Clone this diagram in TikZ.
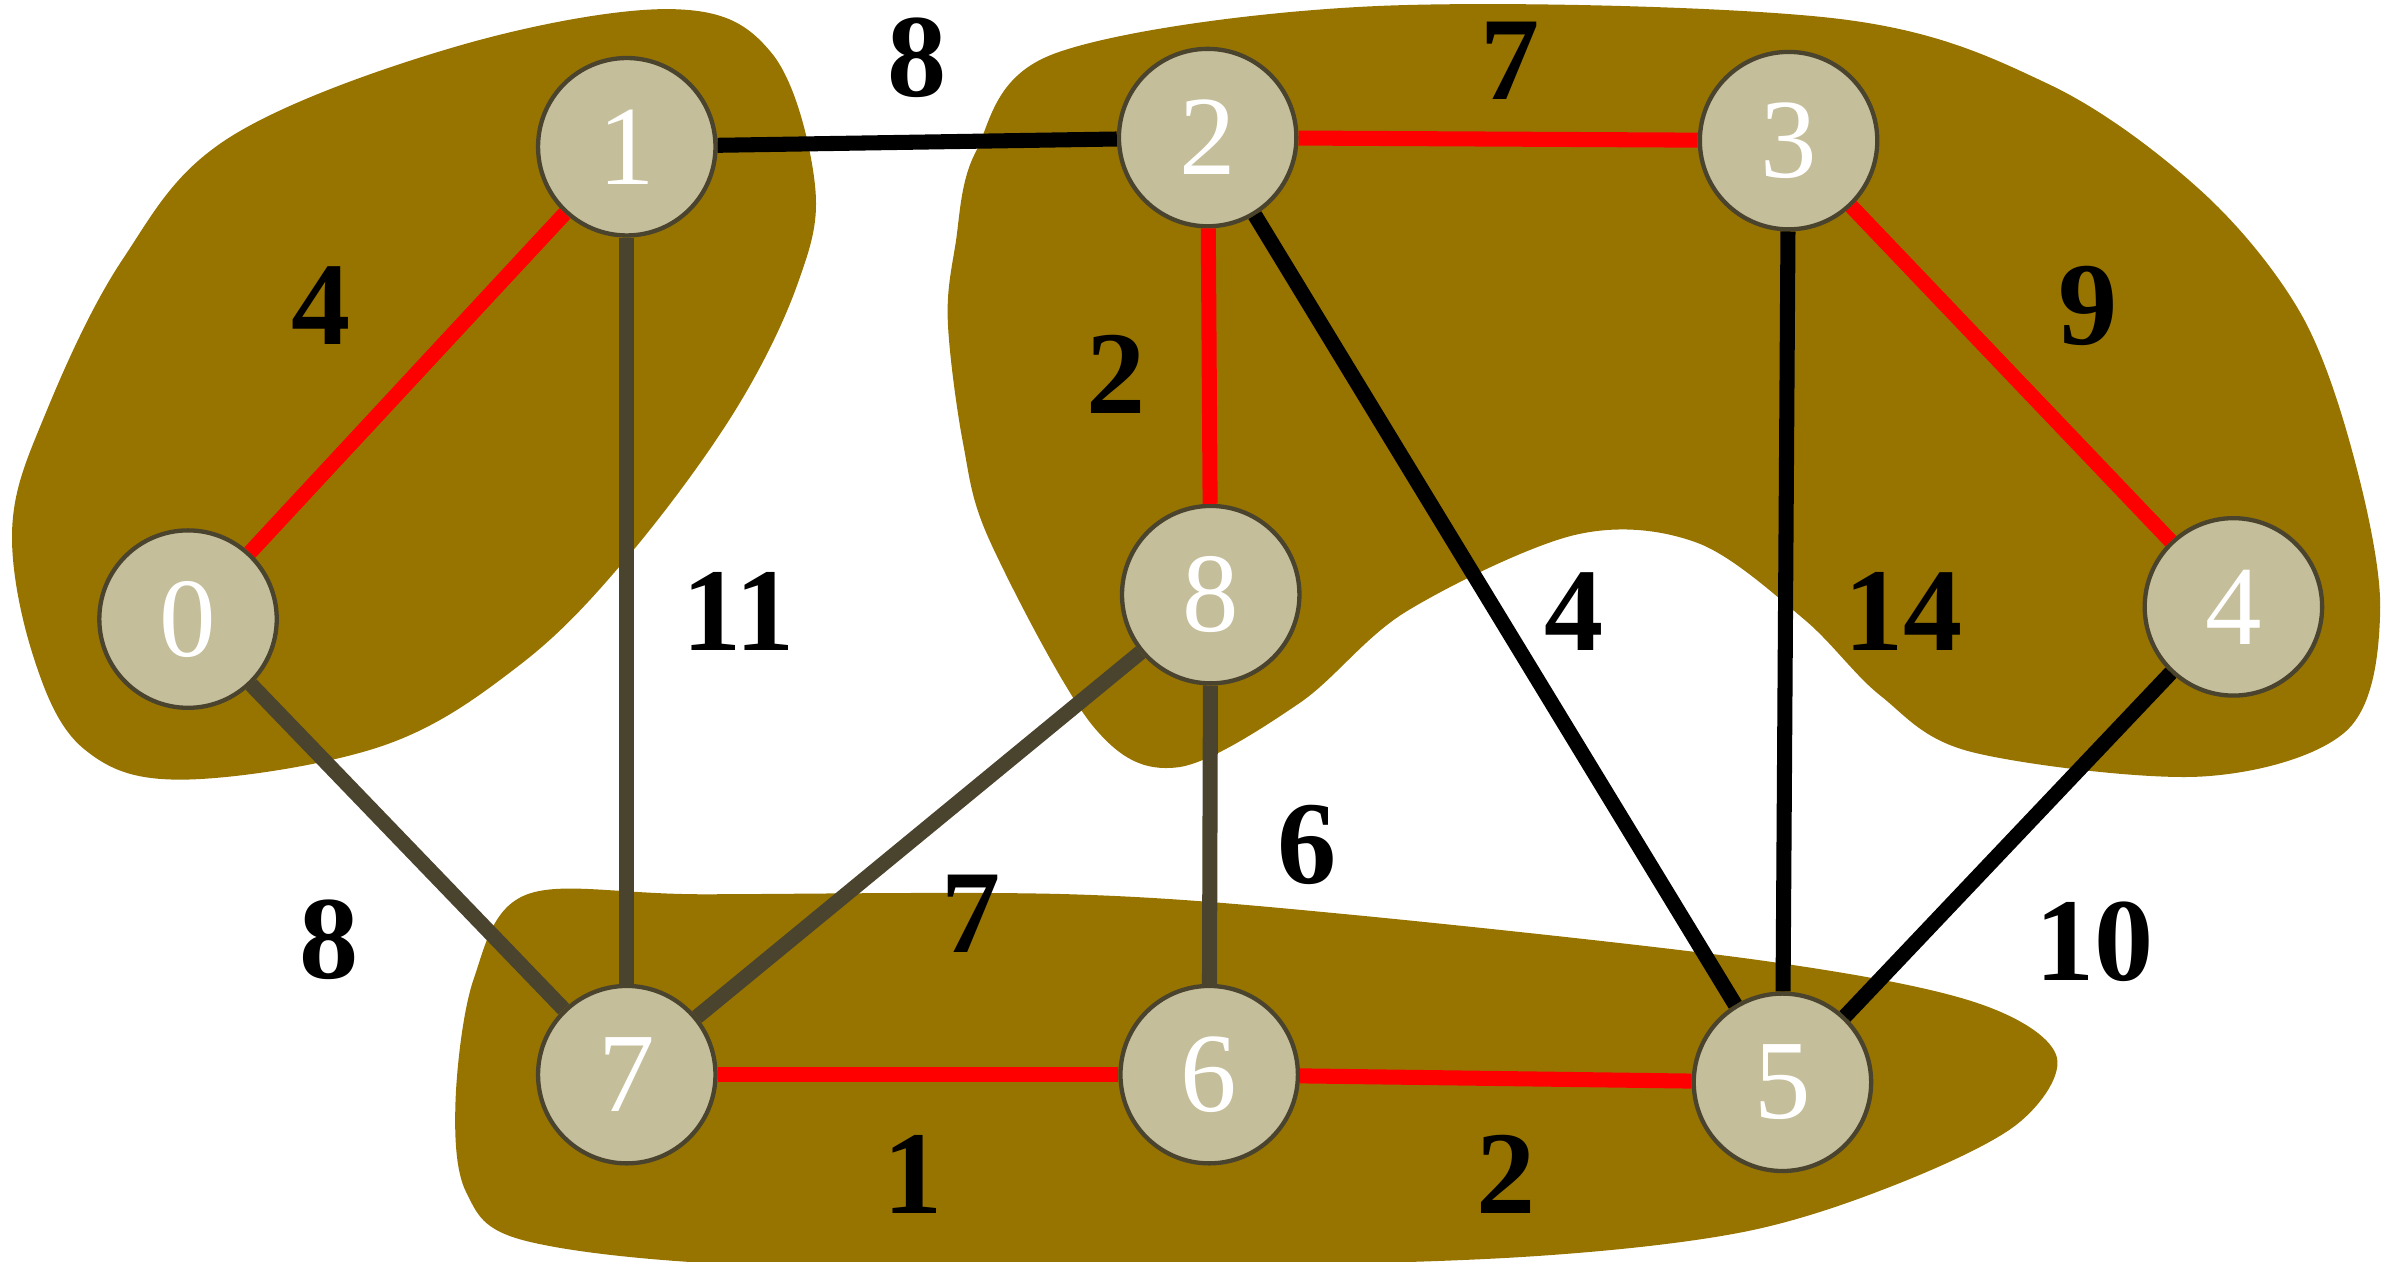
\documentclass[tikz,border=0pt]{standalone}
\usepackage{fontspec}
\setmainfont{Liberation Serif}
\newfontfamily\timesfont{LiberationSerif}[Extension=.ttf, UprightFont=*-Regular, BoldFont=*-Bold]
\usepackage{tikz}
\definecolor{blob}{RGB}{151,116,0}
\definecolor{nodefill}{RGB}{197,190,154}
\definecolor{olive}{RGB}{74,67,46}

\begin{document}
\begin{tikzpicture}[x=0.01cm, y=-0.01cm, line width=2.8pt,
    vertex/.style={circle, fill=nodefill, draw=olive, line width=0.8pt,
                   minimum size=1.16cm, inner sep=0pt, text=white,
                   font=\timesfont\fontsize{21}{21}\selectfont},
    weight/.style={font=\timesfont\fontsize{22}{22}\selectfont\bfseries},
    tree/.style={red},
    plain/.style={black},
    cross/.style={olive}]
    \useasboundingbox (0,0) rectangle (1568,825);

    % Clusters
    \fill[blob] plot[smooth cycle, tension=0.6] coordinates {
        (8,345) (30,270) (80,170) (150,90) (300,30) (440,6) (505,35)
        (533,120) (522,185) (480,270) (410,365) (340,435) (250,488)
        (120,510) (55,490) (22,430)};
    \fill[blob] plot[smooth cycle, tension=0.55] coordinates {
        (638,100) (690,35) (900,4) (1200,12) (1340,55) (1440,125)
        (1505,205) (1540,300) (1557,400) (1535,478) (1440,508) (1290,492)
        (1230,455) (1180,405) (1110,355) (1030,350) (920,400) (850,460)
        (770,502) (715,475) (648,355) (630,290) (620,210) (625,160)};
    \fill[blob] plot[smooth cycle, tension=0.55] coordinates {
        (345,585) (460,585) (700,585) (880,598) (1150,628) (1290,655)
        (1345,690) (1320,735) (1240,775) (1140,806) (1000,822) (800,828)
        (500,828) (345,812) (305,780) (298,720) (310,640)};

    % Vertices
    \node[vertex] (v0) at (123,405) {0};
    \node[vertex] (v1) at (410,96) {1};
    \node[vertex] (v2) at (790,90) {2};
    \node[vertex] (v3) at (1170,92) {3};
    \node[vertex] (v4) at (1461,397) {4};
    \node[vertex] (v5) at (1166,708) {5};
    \node[vertex] (v6) at (791,703) {6};
    \node[vertex] (v7) at (410,703) {7};
    \node[vertex] (v8) at (792,389) {8};

    % Edges
    \draw[tree] (v0) -- (v1);
    \draw[plain] (v1) -- (v2);
    \draw[tree] (v2) -- (v3);
    \draw[tree] (v3) -- (v4);
    \draw[cross] (v1) -- (v7);
    \draw[tree] (v2) -- (v8);
    \draw[plain] (v2) -- (v5);
    \draw[plain] (v3) -- (v5);
    \draw[plain] (v4) -- (v5);
    \draw[cross] (v0) -- (v7);
    \draw[cross] (v8) -- (v7);
    \draw[cross] (v8) -- (v6);
    \draw[tree] (v7) -- (v6);
    \draw[tree] (v6) -- (v5);

    % Weights
    \node[weight] (w01) at (210,200) {4};
    \node[weight] (w12) at (600,38) {8};
    \node[weight] (w23) at (988,40) {7};
    \node[weight] (w34) at (1366,200) {9};
    \node[weight] (w17) at (483,400) {11};
    \node[weight] (w28) at (730,245) {2};
    \node[weight] (w25) at (1030,400) {4};
    \node[weight] (w35) at (1245,400) {14};
    \node[weight] (w45) at (1370,616) {10};
    \node[weight] (w07) at (215,615) {8};
    \node[weight] (w87) at (635,598) {7};
    \node[weight] (w86) at (855,553) {6};
    \node[weight] (w76) at (597,768) {1};
    \node[weight] (w65) at (985,768) {2};
\end{tikzpicture}
\end{document}
